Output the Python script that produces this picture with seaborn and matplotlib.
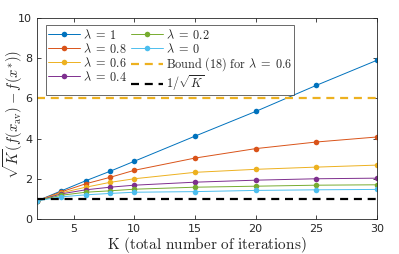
import numpy as np
import pandas as pd
import matplotlib
matplotlib.use("Agg")
import matplotlib.pyplot as plt
import seaborn as sns

# data
K = [2, 4, 6, 8, 10, 15, 20, 25, 30]
lam_labels = ["1", "0.8", "0.6", "0.4", "0.2", "0"]
vals_1 = [0.9, 1.4, 1.9, 2.37, 2.87, 4.12, 5.35, 6.65, 7.9]
vals_08 = [0.9, 1.35, 1.75, 2.07, 2.42, 3.03, 3.5, 3.83, 4.08]
vals_06 = [0.9, 1.3, 1.58, 1.82, 2.0, 2.32, 2.47, 2.58, 2.68]
vals_04 = [0.9, 1.25, 1.45, 1.58, 1.68, 1.83, 1.93, 2.0, 2.03]
vals_02 = [0.9, 1.18, 1.33, 1.4, 1.48, 1.58, 1.63, 1.68, 1.7]
vals_0 = [0.9, 1.1, 1.2, 1.27, 1.33, 1.36, 1.42, 1.45, 1.47]
bound_06 = 6.0
inv_sqrt = 1.0

colors = ["#0072BD", "#D95319", "#EDB120", "#7E2F8E", "#77AC30", "#4DBEEE"]

sns.set_style("ticks")
plt.rcParams["mathtext.fontset"] = "cm"
plt.rcParams["axes.edgecolor"] = "#262626"
plt.rcParams["xtick.color"] = "#262626"
plt.rcParams["ytick.color"] = "#262626"

rows = []
for lab, v in zip(lam_labels, [vals_1, vals_08, vals_06, vals_04, vals_02, vals_0]):
    for k, y in zip(K, v):
        rows.append({"K": k, "val": y, "lam": lab})
df = pd.DataFrame(rows)

fig = plt.figure(figsize=(3.99, 2.54), dpi=100)
ax = fig.add_axes([0.093, 0.138, 0.852, 0.791])

for lab, c in zip(lam_labels, colors):
    sub = df[df["lam"] == lab]
    sns.lineplot(data=sub, x="K", y="val", ax=ax, color=c, linewidth=0.7,
                 marker="o", markersize=4, markeredgewidth=0,
                 label=r"$\lambda\;=\;%s$" % lab)

ax.axhline(bound_06, color="#EDB120", linestyle=(0, (3.6, 2.6)), linewidth=1.6,
           label=r"$\mathrm{Bound\ (18)\ for\ }\lambda\;=\;0.6$")
ax.axhline(inv_sqrt, color="black", linestyle=(0, (3.6, 2.6)), linewidth=1.6,
           label=r"$1/\sqrt{K}$")

ax.set_xlim(2, 30)
ax.set_ylim(0, 10)
ax.set_xticks([5, 10, 15, 20, 25, 30])
ax.set_yticks([0, 2, 4, 6, 8, 10])
ax.tick_params(direction="in", top=True, right=True, labelsize=8, length=3, width=0.6)
for s in ax.spines.values():
    s.set_linewidth(0.6)
ax.set_xlabel(r"$\mathrm{K\ (total\ number\ of\ iterations)}$", fontsize=11, labelpad=1)
ax.set_ylabel(r"$\sqrt{K}(f(x_{\rm av}) - f(x^{*}))$", fontsize=10.5)
ax.yaxis.set_label_coords(-0.035, 0.52)

leg = ax.legend(ncol=2, loc="upper left", bbox_to_anchor=(0.026, 0.965),
                fontsize=8.8, frameon=True, fancybox=False, edgecolor="#262626",
                handlelength=2.6, handletextpad=0.25, columnspacing=0.3,
                labelspacing=0.0, borderpad=0.2, borderaxespad=0.0)
leg.get_frame().set_linewidth(0.6)

fig.savefig("out.png", dpi=100)
